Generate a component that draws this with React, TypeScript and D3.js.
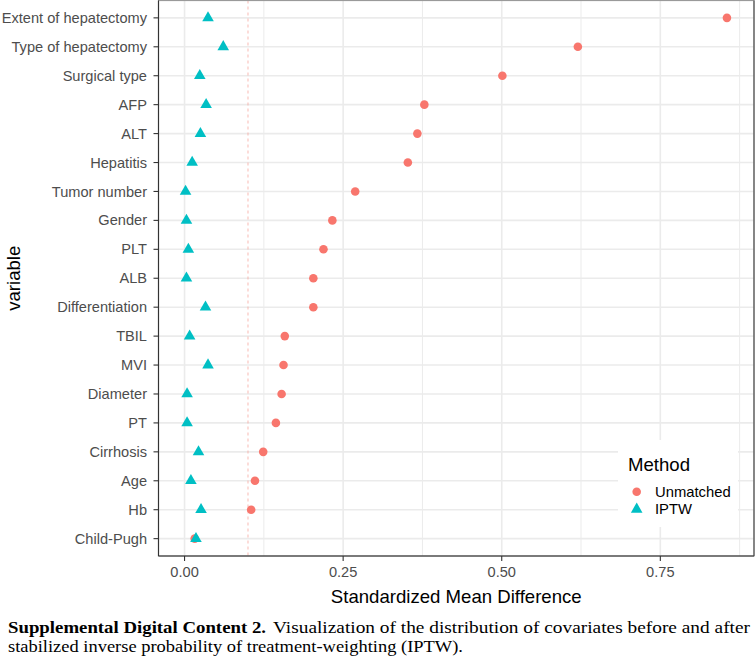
import React from "react";
import * as d3 from "d3";

const variables = [
  "Extent of hepatectomy", "Type of hepatectomy", "Surgical type", "AFP", "ALT",
  "Hepatitis", "Tumor number", "Gender", "PLT", "ALB", "Differentiation", "TBIL",
  "MVI", "Diameter", "PT", "Cirrhosis", "Age", "Hb", "Child-Pugh",
];
const unmatched = [
  0.855, 0.620, 0.501, 0.378, 0.367, 0.352, 0.269, 0.233, 0.219, 0.203, 0.203,
  0.158, 0.156, 0.153, 0.144, 0.124, 0.111, 0.105, 0.016,
];
const iptw = [
  0.037, 0.061, 0.024, 0.034, 0.025, 0.012, 0.0016, 0.003, 0.006, 0.003, 0.033,
  0.008, 0.037, 0.004, 0.004, 0.022, 0.010, 0.026, 0.018,
];
const xTicks = [0, 0.25, 0.5, 0.75];
const xMinor = [0.125, 0.375, 0.625, 0.875];
const threshold = 0.1;
const methods = ["Unmatched", "IPTW"];
const colors = ["#F8766D", "#00BFC4"];
const captionBold = "Supplemental Digital Content 2.";
const captionLine1 = "Visualization of the distribution of covariates before and after";
const captionLine2 = "stabilized inverse probability of treatment-weighting (IPTW).";

const W = 756, H = 664;
const L = 158.5, R = 754, T = 0.5, B = 556;
const sans = "'Liberation Sans', Arial, sans-serif";
const serif = "'Liberation Serif', 'Times New Roman', serif";

export default function App() {
  const all = [...unmatched, ...iptw];
  const lo = d3.min(all)!, hi = d3.max(all)!;
  const ex = (hi - lo) * 0.05;
  const x = d3.scaleLinear().domain([lo - ex, hi + ex]).range([L, R]);
  const y = d3.scalePoint<string>().domain(variables).range([T, B]).padding(0.6);
  const circ = d3.symbol().type(d3.symbolCircle).size(58)()!;
  const tri = d3.symbol().type(d3.symbolTriangle).size(58)()!;
  const fmt = d3.format(".2f");
  return (
    <svg width={W} height={H} style={{ position: "absolute", left: 0, top: 0 }}>
      <rect x={0} y={0} width={W} height={H} fill="white" />
      {/* grid */}
      {xMinor.map((v) => (
        <line key={"m" + v} x1={x(v)} x2={x(v)} y1={T} y2={B} stroke="#EBEBEB" strokeWidth={1} />
      ))}
      {xTicks.map((v) => (
        <line key={"M" + v} x1={x(v)} x2={x(v)} y1={T} y2={B} stroke="#EBEBEB" strokeWidth={1.6} />
      ))}
      {variables.map((v) => (
        <line key={"h" + v} x1={L} x2={R} y1={y(v)} y2={y(v)} stroke="#EBEBEB" strokeWidth={1.6} />
      ))}
      <line x1={x(threshold)} x2={x(threshold)} y1={T} y2={B} stroke="#F8A8A0" strokeWidth={0.8} strokeDasharray="3,3" />
      {/* points */}
      {variables.map((v, i) => (
        <path key={"u" + v} d={circ} transform={`translate(${x(unmatched[i])},${y(v)})`} fill={colors[0]} />
      ))}
      {variables.map((v, i) => (
        <path key={"i" + v} d={tri} transform={`translate(${x(iptw[i])},${y(v)})`} fill={colors[1]} />
      ))}
      {/* panel border */}
      <rect x={L} y={T} width={R - L} height={B - T} fill="none" stroke="#9A9A9A" strokeWidth={1.2} />
      <line x1={R} x2={R} y1={T} y2={B} stroke="#555" strokeWidth={1.1} />
      <line x1={L} x2={L} y1={T} y2={B} stroke="#333" strokeWidth={1.1} />
      <line x1={L} x2={R} y1={B} y2={B} stroke="#333" strokeWidth={1.1} />
      {/* y axis */}
      {variables.map((v) => (
        <g key={"yt" + v}>
          <line x1={L - 5} x2={L} y1={y(v)} y2={y(v)} stroke="#333" strokeWidth={1.1} />
          <text x={L - 11.5} y={y(v)} dy="0.35em" textAnchor="end" fontFamily={sans} fontSize={14.6} fill="#4D4D4D">
            {v}
          </text>
        </g>
      ))}
      {/* x axis */}
      {xTicks.map((v) => (
        <g key={"xt" + v}>
          <line x1={x(v)} x2={x(v)} y1={B} y2={B + 5} stroke="#333" strokeWidth={1.1} />
          <text x={x(v)} y={B + 16} dy="0.35em" textAnchor="middle" fontFamily={sans} fontSize={14.6} fill="#4D4D4D">
            {fmt(v)}
          </text>
        </g>
      ))}
      <text x={(L + R) / 2} y={596} dy="0.35em" textAnchor="middle" fontFamily={sans} fontSize={18.6} fill="black">
        Standardized Mean Difference
      </text>
      <text transform={`translate(13,${(T + B) / 2}) rotate(-90)`} dy="0.35em" textAnchor="middle" fontFamily={sans} fontSize={18.6} fill="black">
        variable
      </text>
      {/* legend */}
      <rect x={618} y={440} width={120} height={87} fill="white" />
      <text x={628} y={464} dy="0.35em" fontFamily={sans} fontSize={18.6} fill="black">Method</text>
      {methods.map((m, i) => (
        <g key={m}>
          <path d={i === 0 ? circ : tri} transform={`translate(636.7,${491.7 + i * 17.6})`} fill={colors[i]} />
          <text x={655} y={491.7 + i * 17.6} dy="0.35em" fontFamily={sans} fontSize={14.8} fill="black">{m}</text>
        </g>
      ))}
      {/* caption */}
      <text x={8} y={633} fontFamily={serif} fontSize={17} fontWeight="bold" fill="black"
        textLength={258} lengthAdjust="spacingAndGlyphs">
        {captionBold}
      </text>
      <text x={273} y={633} fontFamily={serif} fontSize={17} fill="black"
        textLength={477} lengthAdjust="spacingAndGlyphs">
        {captionLine1}
      </text>
      <text x={8} y={652} fontFamily={serif} fontSize={17} fill="black"
        textLength={455} lengthAdjust="spacingAndGlyphs">
        {captionLine2}
      </text>
    </svg>
  );
}
